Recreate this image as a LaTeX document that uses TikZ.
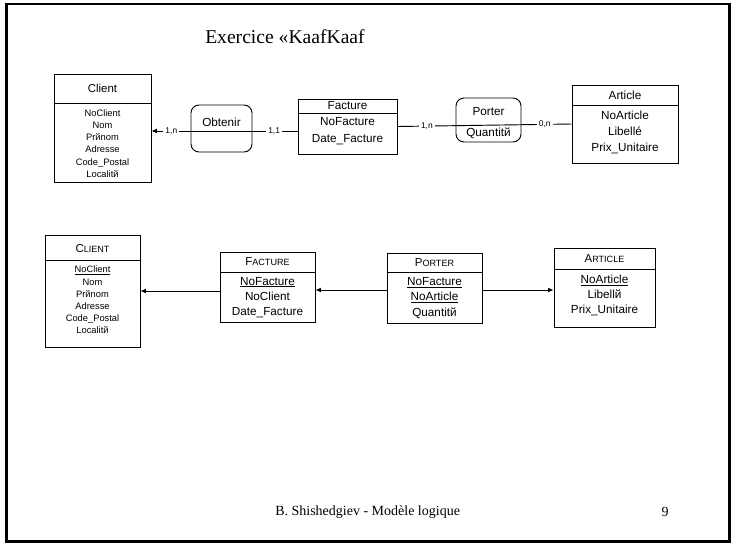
\documentclass[tikz,border=0pt]{standalone}
\usepackage{fontspec}
\setmainfont{Liberation Serif}
\setsansfont{Liberation Sans}
\usetikzlibrary{arrows.meta}

% fake small capitals: first letter large, the rest smaller
\newcommand\capsfake[2]{{\fontsize{8.6}{8.6}\selectfont #1}{\fontsize{6.8}{6.8}\selectfont #2}}
% underline set close to the baseline
\newcommand\keyattr[1]{{\setbox0\hbox{#1}\rlap{\rule[-1.3pt]{\wd0}{0.5pt}}\box0}}

\tikzset{
  ent/.style 2 args={draw, line width=0.7pt, minimum width=#1*0.75pt,
    minimum height=#2*0.75pt, inner sep=0pt},
  rel/.style 2 args={ent={#1}{#2}, rounded corners=6pt},
  hdr/.style={font=\sffamily\fontsize{8.6}{9}\selectfont, inner sep=0pt},
  small/.style={font=\sffamily\fontsize{7}{9.2}\selectfont, align=center, inner sep=0pt},
  big/.style={font=\sffamily\fontsize{8.8}{12}\selectfont, align=center, inner sep=0pt},
  card/.style={font=\sffamily\fontsize{6.3}{7}\selectfont, fill=white, inner sep=1.6pt},
  conn/.style={line width=0.7pt},
  arr/.style={conn, -{Latex[length=4pt,width=3.6pt]}},
}

\begin{document}
\begin{tikzpicture}[x=0.75pt,y=-0.75pt]
\useasboundingbox (0,0) rectangle (731,546);
\draw[line width=2pt] (6.5,4) rectangle (729.5,541.5);

% title and footer
\node[anchor=west, font=\fontsize{14.7}{16}\selectfont, inner sep=0pt] (title) at (205,37) {Exercice «KaafKaaf};
\node[anchor=west, font=\fontsize{10.5}{12}\selectfont, inner sep=0pt] (footer) at (275,512) {B. Shishedgiev - Modèle logique};
\node[font=\fontsize{10.5}{12}\selectfont, inner sep=0pt] (pagenum) at (665,512) {9};

% ---------- conceptual model ----------
\node[ent={97}{108}] (client) at (102.5,128) {};
\draw[line width=0.7pt] (client.west |- 0,103) -- (client.east |- 0,103);
\node[hdr] (client-h) at (102.5,88.5) {Client};
\node[small] (client-a) at (102.5,143.5) {NoClient\\Nom\\Prйnom\\Adresse\\Code\_Postal\\Localitй};

\node[ent={99}{55}] (facture) at (347.5,126.5) {};
\draw[line width=0.7pt] (facture.west |- 0,113) -- (facture.east |- 0,113);
\node[hdr, font=\sffamily\fontsize{8.8}{9}\selectfont] (facture-h) at (347.5,106) {Facture};
\node[big, font=\sffamily\fontsize{8.8}{12.6}\selectfont] (facture-a) at (347.5,131.5) {NoFacture\\Date\_Facture};

\node[ent={106}{78}] (article) at (625,124) {};
\draw[line width=0.7pt] (article.west |- 0,105) -- (article.east |- 0,105);
\node[hdr, font=\sffamily\fontsize{8.8}{9}\selectfont] (article-h) at (625,95) {Article};
\node[big] (article-a) at (625,132) {NoArticle\\Libellé\\Prix\_Unitaire};

\node[rel={61}{47}] (obtenir) at (221.5,128.5) {};
\node[big] (obtenir-t) at (221.5,122) {Obtenir};

\node[rel={65}{44}] (porter) at (488.5,120) {};
\node[big] (porter-t) at (488.5,111.5) {Porter};
\node[big] (porter-q) at (488.5,133) {Quantitй};

\draw[arr] (facture.west |- 0,131) -- node[card, pos=0.16] {1,1} node[card, pos=0.864] {1,n} (client.east |- 0,131);
\draw[conn] (facture.east) -- node[card, pos=0.169] {1,n} node[card, pos=0.846] {0,n} (article.west);

% ---------- logical model ----------
\node[ent={95}{112}] (lclient) at (92.5,291) {};
\draw[line width=0.7pt] (lclient.west |- 0,260) -- (lclient.east |- 0,260);
\node[hdr] (lclient-h) at (92.5,249) {\capsfake{C}{LIENT}};
\node[small, font=\sffamily\fontsize{7}{9.15}\selectfont] (lclient-a) at (92.5,300) {\keyattr{NoClient}\\Nom\\Prйnom\\Adresse\\Code\_Postal\\Localitй};

\node[ent={95}{70}] (lfacture) at (267.5,287) {};
\draw[line width=0.7pt] (lfacture.west |- 0,272) -- (lfacture.east |- 0,272);
\node[hdr] (lfacture-h) at (267.5,262) {\capsfake{F}{ACTURE}};
\node[big, font=\sffamily\fontsize{8.8}{11.25}\selectfont] (lfacture-a) at (267.5,297.5) {\keyattr{NoFacture}\\NoClient\\Date\_Facture};

\node[ent={95}{70}] (lporter) at (434.5,288) {};
\draw[line width=0.7pt] (lporter.west |- 0,272) -- (lporter.east |- 0,272);
\node[hdr] (lporter-h) at (434.5,263) {\capsfake{P}{ORTER}};
\node[big, font=\sffamily\fontsize{8.8}{11.5}\selectfont] (lporter-a) at (434.5,298) {\keyattr{NoFacture}\\\keyattr{NoArticle}\\Quantitй};

\node[ent={101}{79}] (larticle) at (604.5,287.5) {};
\draw[line width=0.7pt] (larticle.west |- 0,269) -- (larticle.east |- 0,269);
\node[hdr] (larticle-h) at (604.5,259) {\capsfake{A}{RTICLE}};
\node[big, font=\sffamily\fontsize{8.8}{11.25}\selectfont] (larticle-a) at (604.5,295.5) {\keyattr{NoArticle}\\Libellй\\Prix\_Unitaire};

\draw[arr] (lfacture.west |- 0,291) -- (lclient.east |- 0,291);
\draw[arr] (lporter.west |- 0,290) -- (lfacture.east |- 0,290);
\draw[arr] (lporter.east |- 0,290) -- (larticle.west |- 0,290);
\end{tikzpicture}
\end{document}
